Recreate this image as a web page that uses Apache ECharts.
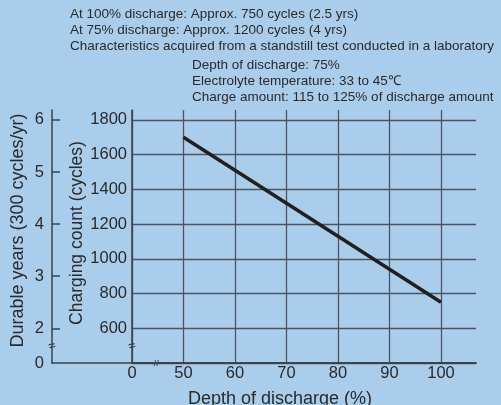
<!DOCTYPE html>
<html><head><meta charset="utf-8">
<script src="https://cdn.jsdelivr.net/npm/echarts@6/dist/echarts.min.js"></script>
<style>html,body{margin:0;padding:0;background:#abcdec}#c{width:501px;height:405px}</style>
</head><body><div id="c"></div>
<script>
const depth = [50, 100];
const cycles = [1700, 750];
const depthTicks = [40, 50, 60, 70, 80, 90, 100];
const cycleTicks = [400, 600, 800, 1000, 1200, 1400, 1600, 1800];
const cycleLabels = [600, 800, 1000, 1200, 1400, 1600, 1800];
const yearTicks = [2, 3, 4, 5, 6];
const yearLabels = [400 / 300, 2, 3, 4, 5, 6];
const notesA = [
  'At 100% discharge: Approx. 750 cycles (2.5 yrs)',
  'At 75% discharge: Approx. 1200 cycles (4 yrs)',
  'Characteristics acquired from a standstill test conducted in a laboratory'
];
const notesB = [
  'Depth of discharge: 75%',
  'Electrolyte temperature: 33 to 45\u2103',
  'Charge amount: 115 to 125% of discharge amount'
];

const FONT = "'Liberation Sans', Arial, sans-serif";
const TXT = '#2a2a2a';
const AX = '#3a4049';
const GRID = '#4b5462';

const chart = echarts.init(document.getElementById('c'));
chart.setOption({
  animation: false,
  backgroundColor: '#abcdec',
  textStyle: { fontFamily: FONT, color: TXT },
  title: [
    { text: notesA.join('\n'), left: 70, top: 6, padding: 0,
      textStyle: { fontSize: 13.5, fontWeight: 'normal', color: TXT, lineHeight: 16, fontFamily: FONT } },
    { text: notesB.join('\n'), left: 192, top: 57, padding: 0,
      textStyle: { fontSize: 13.5, fontWeight: 'normal', color: TXT, lineHeight: 16, fontFamily: FONT } }
  ],
  grid: [
    { left: 132, right: 25, top: 110, bottom: 42, containLabel: false, outerBoundsMode: 'none' },
    { left: 52, right: 25, top: 110, bottom: 42, containLabel: false, outerBoundsMode: 'none' }
  ],
  xAxis: [
    { gridIndex: 0, type: 'value', min: 40, max: 106.8, interval: 10,
      axisLine: { show: true, lineStyle: { color: AX, width: 1.5 } },
      axisTick: { show: false, customValues: depthTicks },
      axisLabel: { customValues: depthTicks, fontSize: 16.5, color: TXT, margin: 2, fontFamily: FONT,
        formatter: v => v === 40 ? '0' : String(v) },
      splitLine: { show: true, lineStyle: { color: GRID, width: 1.3 } },
      name: 'Depth of discharge (%)', nameLocation: 'middle', nameGap: 27,
      nameTextStyle: { fontSize: 18, color: TXT, fontFamily: FONT, padding: [0, 48, 0, 0] } },
    { gridIndex: 1, type: 'value', min: 0, max: 1,
      axisLine: { show: true, lineStyle: { color: AX, width: 1.5 } },
      axisTick: { show: false }, axisLabel: { show: false }, splitLine: { show: false } }
  ],
  yAxis: [
    { gridIndex: 0, type: 'value', min: 400, max: 1857, interval: 200,
      axisLine: { show: true, lineStyle: { color: AX, width: 1.5 } },
      axisTick: { show: false, customValues: cycleTicks },
      axisLabel: { customValues: cycleLabels, fontSize: 16.5, color: TXT, margin: 5, fontFamily: FONT,
        formatter: v => String(v) },
      splitLine: { show: true, lineStyle: { color: GRID, width: 1.3 } },
      name: 'Charging count (cycles)', nameLocation: 'middle', nameGap: 46, nameMoveOverlap: false,
      nameTextStyle: { fontSize: 17.5, color: TXT, fontFamily: FONT, padding: [0, 0, 0, 7] } },
    { gridIndex: 1, type: 'value', min: 400 / 300, max: 1857 / 300,
      axisLine: { show: true, lineStyle: { color: AX, width: 1.5 } },
      axisTick: { show: true, inside: true, length: 8, customValues: yearTicks, lineStyle: { color: AX, width: 1.5 } },
      axisLabel: { customValues: yearLabels, fontSize: 16.5, color: TXT, margin: 8, fontFamily: FONT,
        formatter: v => v < 1.9 ? '0' : String(Math.round(v)) },
      splitLine: { show: false },
      name: 'Durable years (300 cycles/yr)', nameLocation: 'middle', nameGap: 25, nameMoveOverlap: false,
      nameTextStyle: { fontSize: 18, color: TXT, fontFamily: FONT, padding: [0, 0, 0, 12] } }
  ],
  series: [
    { type: 'line', xAxisIndex: 0, yAxisIndex: 0,
      data: depth.map((d, i) => [d, cycles[i]]),
      showSymbol: false, lineStyle: { color: '#231f20', width: 3.5 } }
  ]
});

const pA = chart.convertToPixel({ xAxisIndex: 1, yAxisIndex: 1 }, [0, 500 / 300]);
const pB = chart.convertToPixel({ xAxisIndex: 0, yAxisIndex: 0 }, [40, 500]);
const pC = chart.convertToPixel({ xAxisIndex: 0, yAxisIndex: 0 }, [44.7, 400]);
const wave = dy => ({
  type: 'bezierCurve',
  shape: { x1: -3, y1: dy, cpx1: -1, cpy1: dy - 2.2, cpx2: 1, cpy2: dy + 2.2, x2: 3, y2: dy },
  style: { stroke: '#333', lineWidth: 1, fill: null }
});
const brk = (p, rot) => ({
  type: 'group', x: p[0], y: p[1], rotation: rot,
  children: [wave(-1.4), wave(1.4)]
});
chart.setOption({ graphic: [brk(pA, 0.35), brk(pB, 0.35), brk(pC, Math.PI / 2)] });
</script></body></html>
